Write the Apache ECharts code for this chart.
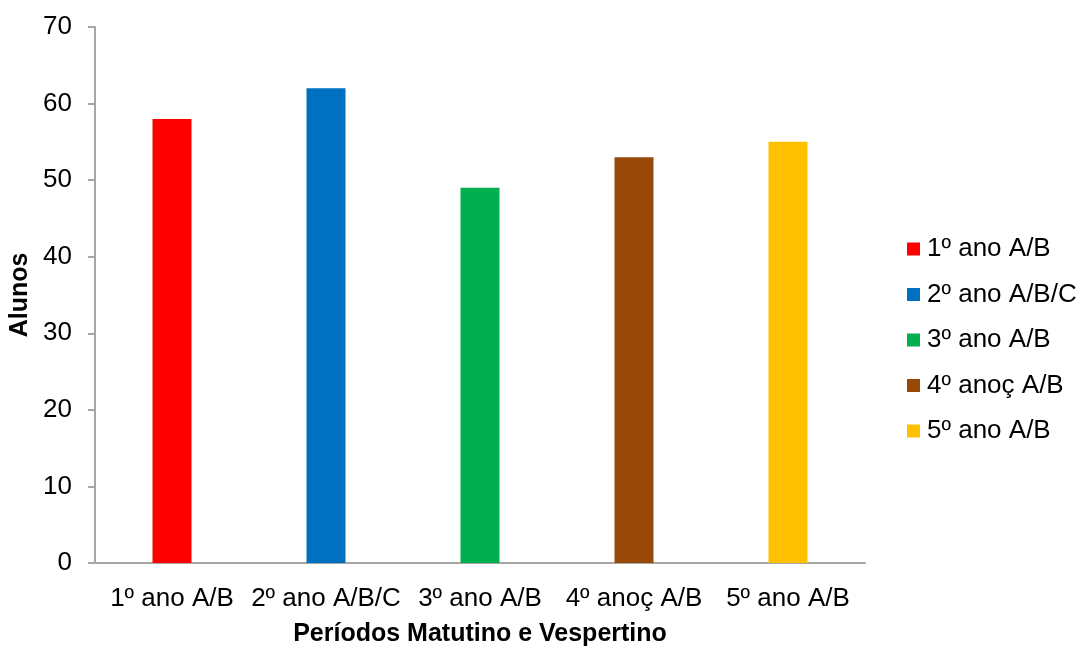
<!DOCTYPE html>
<html>
<head>
<meta charset="utf-8">
<script src="https://cdn.jsdelivr.net/npm/echarts@6/dist/echarts.min.js"></script>
<style>html,body{margin:0;padding:0;background:#fff}#c{width:1083px;height:646px}</style>
</head>
<body>
<div id="c"></div>
<script>
const categories = ['1º ano A/B', '2º ano A/B/C', '3º ano A/B', '4º anoç A/B', '5º ano A/B'];
const seriesNames = ['1º ano A/B', '2º ano A/B/C', '3º ano A/B', '4º anoç A/B', '5º ano A/B'];
const values = [58, 62, 49, 53, 55];
const colors = ['#FF0000', '#0070C0', '#00B050', '#984807', '#FFC000'];
const yTicks = [0, 10, 20, 30, 40, 50, 60, 70];

const font = 'Liberation Sans, Arial, sans-serif';
const series = seriesNames.map((name, i) => ({
  name: name,
  type: 'bar',
  stack: 'all',
  barWidth: 39,
  itemStyle: { color: colors[i] },
  data: values.map((v, j) => (j === i ? v : null))
}));

const chart = echarts.init(document.getElementById('c'), null, { renderer: 'canvas' });
chart.setOption({
  animation: false,
  color: colors,
  grid: { left: 95, right: 218, top: 27, bottom: 83, containLabel: false, outerBoundsMode: 'none' },
  legend: {
    orient: 'vertical',
    left: 907,
    top: 236,
    padding: 0,
    itemWidth: 13,
    itemHeight: 13,
    itemGap: 19.5,
    icon: 'rect',
    textStyle: { fontFamily: font, fontSize: 26, color: '#000', padding: [0, 0, 0, 2], lineHeight: 26 },
    data: seriesNames
  },
  xAxis: {
    type: 'category',
    data: categories,
    name: 'Períodos Matutino e Vespertino',
    nameLocation: 'middle',
    nameGap: 59,
    nameTextStyle: { fontFamily: font, fontSize: 25, fontWeight: 'bold', color: '#000' },
    axisLine: { lineStyle: { color: '#A6A6A6', width: 2 } },
    axisTick: { show: false },
    axisLabel: { fontFamily: font, fontSize: 26, color: '#000', margin: 23, interval: 0 }
  },
  yAxis: {
    type: 'value',
    min: yTicks[0],
    max: yTicks[yTicks.length - 1],
    interval: 10,
    name: 'Alunos',
    nameLocation: 'middle',
    nameGap: 62,
    nameRotate: 90,
    nameTextStyle: { fontFamily: font, fontSize: 25, fontWeight: 'bold', color: '#000' },
    axisLine: { show: true, lineStyle: { color: '#A6A6A6', width: 2 } },
    axisTick: { show: true, length: 7, lineStyle: { color: '#A6A6A6', width: 2 } },
    splitLine: { show: false },
    axisLabel: { fontFamily: font, fontSize: 26, color: '#000', margin: 23 }
  },
  series: series
});
</script>
</body>
</html>
